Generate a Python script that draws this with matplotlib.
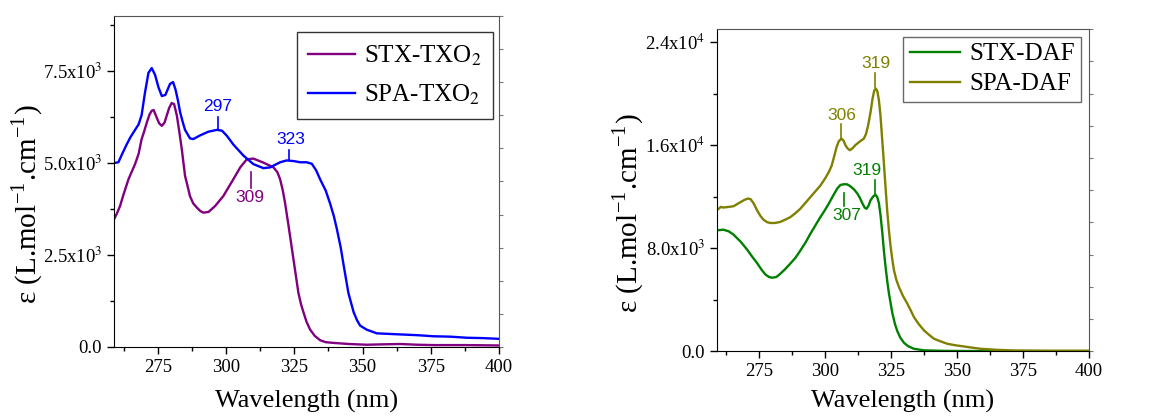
import matplotlib.pyplot as plt
from matplotlib.ticker import MultipleLocator, FixedLocator

plt.rcParams['font.family'] = ['Liberation Serif', 'DejaVu Serif']
plt.rcParams['mathtext.fontset'] = 'stix'

# ---- data: STX-TXO2 / SPA-TXO2 (eps in 1e3 L/mol/cm) ----
wl_stx_txo = [259, 260, 261.2, 262.5, 264.3, 266.7, 268, 269.1, 270, 271, 272, 272.8, 273.5,
              274.6, 275.5, 276.5, 277.5, 278.3, 279.2, 280.1, 281, 282, 282.8, 283.8, 285,
              286, 286.8, 288, 289.3, 290.5, 291.7, 293.6, 296, 299, 302.7, 305.2, 307.6,
              310, 313.7, 316, 317.4, 318.8, 319.8, 320.8, 321.6, 322.9, 324.7, 326.5,
              327.5, 328.4, 329.5, 330.8, 332.5, 334.5, 336.5, 339.3, 345, 351.5, 357,
              363.8, 370, 376, 388, 400]
eps_stx_txo = [3.47, 3.62, 3.83, 4.15, 4.56, 4.97, 5.25, 5.65, 5.85, 6.1, 6.32, 6.42, 6.44,
               6.24, 6.08, 6.01, 6.1, 6.29, 6.5, 6.63, 6.6, 6.29, 5.9, 5.38, 4.65,
               4.35, 4.1, 3.9, 3.79, 3.7, 3.65, 3.67, 3.83, 4.1, 4.56, 4.88, 5.1,
               5.12, 5.01, 4.93, 4.88, 4.75, 4.56, 4.25, 3.92, 3.29, 2.38, 1.47,
               1.15, 0.93, 0.68, 0.47, 0.3, 0.18, 0.13, 0.11, 0.08, 0.06, 0.07,
               0.08, 0.06, 0.05, 0.05, 0.04]

wl_spa_txo = [259, 260.6, 262, 263.6, 265, 266.7, 268, 269.1, 270.3, 271.6, 272.8, 274,
              275.3, 276.5, 277.8, 279.5, 280.6, 281.5, 282.4, 283.2, 284.2, 285, 286.8,
              288, 290.5, 293.5, 296.6, 298.5, 300.3, 302.7, 306.4, 310, 313.7, 316.1,
              319.8, 322.2, 325, 327.1, 329.5, 331.4, 333, 334.5, 336.5, 338.1, 339.5,
              340.6, 342, 343, 344.8, 346.7, 348, 349.1, 351.5, 355.2, 358, 363.8, 370,
              376, 382, 388.2, 394, 400]
eps_spa_txo = [5.0, 5.02, 5.25, 5.5, 5.7, 5.9, 6.05, 6.3, 6.9, 7.45, 7.58, 7.4,
               7.05, 6.82, 6.85, 7.15, 7.2, 7.0, 6.7, 6.38, 6.1, 5.9, 5.67,
               5.65, 5.75, 5.85, 5.9, 5.88, 5.74, 5.5, 5.2, 4.97, 4.86, 4.88,
               5.02, 5.07, 5.05, 5.02, 5.02, 4.98, 4.8, 4.55, 4.25, 3.9, 3.55,
               3.2, 2.7, 2.25, 1.47, 0.95, 0.72, 0.58, 0.47, 0.37, 0.36, 0.34, 0.32,
               0.29, 0.28, 0.25, 0.24, 0.22]

# ---- data: STX-DAF / SPA-DAF (eps in 1e3 L/mol/cm) ----
wl_stx_daf = [259, 261.5, 263.5, 265.3, 268, 270.4, 272.5, 274.2, 276, 277.4, 278.8, 279.9,
              281.5, 283, 284.8, 286.8, 288.8, 290.6, 292.5, 294.4, 296.3, 298.2, 299.8,
              301.4, 303, 304.6, 305.8, 307.1, 308.4, 309.6, 311, 312.2, 313.2, 314.1,
              315, 315.7, 316.5, 317.2, 318.2, 319.1, 319.8, 320.4, 321, 321.7, 322.3,
              322.9, 323.6, 324.2, 325.5, 326.5, 327.4, 328.5, 329.9, 331.5, 333.7,
              337.5, 345, 360, 400]
eps_stx_daf = [9.38, 9.43, 9.3, 9.05, 8.5, 7.9, 7.3, 6.85, 6.3, 5.95, 5.75, 5.70,
               5.75, 6.0, 6.35, 6.79, 7.25, 7.8, 8.4, 9.1, 9.75, 10.4, 10.9,
               11.45, 12.05, 12.62, 12.9, 12.96, 12.95, 12.8, 12.55, 12.25, 11.9, 11.5,
               11.15, 11.05, 11.3, 11.7, 12.0, 12.15, 11.95, 11.5, 10.6, 9.2, 7.8,
               6.6, 5.4, 4.5, 2.95, 2.1, 1.55, 1.05, 0.65, 0.38, 0.18,
               0.06, 0.02, 0.0, 0.0]

wl_spa_daf = [259, 260.5, 261.5, 263.5, 265.3, 267.8, 269.5, 270.8, 271.8, 273, 274.2, 275.5,
              276.7, 278, 279.2, 281, 283, 284.8, 286.8, 288.7, 290.6, 292.5, 294.4, 296.3,
              298.2, 300, 301.4, 302.5, 303.3, 304.3, 305.2, 306.2, 307, 307.7, 308.5,
              309.4, 310.4, 311.5, 313, 314.7, 315.5, 316.3, 317.2, 318, 318.6, 319.2,
              319.8, 320.4, 321, 321.6, 322.3, 323, 323.6, 324.2, 324.8, 325.5, 326.1,
              327, 328, 329.5, 331.2, 332.5, 333.7, 335.5, 337.5, 339.5, 341.3, 343.5,
              346.3, 349.5, 352.7, 356, 359, 365, 371.7, 385, 400]
eps_spa_daf = [10.94, 11.2, 11.15, 11.2, 11.25, 11.55, 11.75, 11.85, 11.8, 11.45, 10.95, 10.5,
               10.2, 10.02, 9.95, 9.95, 10.03, 10.2, 10.4, 10.7, 11.05, 11.5, 11.95, 12.4,
               12.85, 13.4, 13.9, 14.4, 15.0, 15.8, 16.3, 16.5, 16.35, 16.0, 15.75,
               15.6, 15.75, 16.0, 16.25, 16.5, 16.85, 17.5, 18.5, 19.6, 20.2, 20.4,
               20.2, 19.5, 18.3, 16.6, 14.6, 12.5, 10.8, 9.4, 8.2, 7.1, 6.3,
               5.55, 4.98, 4.3, 3.68, 3.15, 2.64, 2.1, 1.61, 1.25, 0.96, 0.78,
               0.57, 0.45, 0.36, 0.26, 0.18, 0.1, 0.05, 0.03, 0.03]

# peak labels: wavelength, line bottom, line top, text y, text x, colour, text above/below line
peaks_txo = [(297, 5.92, 6.25, 6.33, 297, 'blue', 'above'),
             (323, 5.08, 5.35, 5.43, 323.8, 'blue', 'above'),
             (309, 4.33, 4.75, 4.27, 308.8, 'purple', 'below')]
peaks_daf = [(306, 16.5, 17.6, 17.75, 306.4, 'olive', 'above'),
             (319, 20.5, 21.6, 21.75, 319.3, 'olive', 'above'),
             (319, 12.2, 13.3, 13.45, 316.0, 'green', 'above'),
             (307, 11.3, 12.3, 11.15, 308.1, 'green', 'below')]

col = {'purple': '#800080', 'blue': '#0000FF', 'green': '#008000', 'olive': '#808000'}

fig = plt.figure(figsize=(11.6, 4.17), dpi=100)
ax1 = fig.add_axes([0.0983, 0.168, 0.332, 0.794])
ax2 = fig.add_axes([0.618, 0.158, 0.3207, 0.772])


def style(ax, ymax, major, minor, labels, right_step, ylab_x, xpad):
    ax.set_xlim(259, 400)
    ax.set_ylim(0, ymax)
    ax.xaxis.set_major_locator(FixedLocator([275, 300, 325, 350, 375, 400]))
    ax.xaxis.set_minor_locator(MultipleLocator(12.5))
    ax.yaxis.set_minor_locator(MultipleLocator(minor))
    ax.set_yticks([major * i for i in range(len(labels))], labels)
    ax.tick_params(which='both', direction='out', top=False, right=False, labelsize=13.5)
    ax.tick_params(which='major', length=5, width=1)
    ax.tick_params(which='minor', length=3, width=1)
    for s in ['top', 'right']:
        ax.spines[s].set_color('#555555')
    ax.set_xlabel('Wavelength (nm)', fontsize=19, labelpad=xpad)
    ax.set_ylabel(r'$\mathregular{\varepsilon}$ (L.mol$^{\mathregular{-1}}$.cm$^{\mathregular{-1}}$)',
                  fontsize=21)
    ax.yaxis.set_label_coords(ylab_x, 0.43)
    sec = ax.secondary_yaxis('right')
    sec.set_yticks([right_step * i for i in range(11)])
    sec.set_yticklabels([])
    sec.tick_params(direction='out', length=3, color='#777777')
    sec.spines['right'].set_visible(False)


ax1.plot(wl_stx_txo, [v * 1000 for v in eps_stx_txo], color=col['purple'], lw=1.7,
         label='STX-TXO$_2$')
ax1.plot(wl_spa_txo, [v * 1000 for v in eps_spa_txo], color=col['blue'], lw=1.7,
         label='SPA-TXO$_2$')
style(ax1, 9000, 2500, 1250,
      ['0.0', r'2.5x10$^3$', r'5.0x10$^3$', r'7.5x10$^3$'], 900, -0.18, 10)

ax2.plot(wl_stx_daf, [v * 1000 for v in eps_stx_daf], color=col['green'], lw=1.7,
         label='STX-DAF')
ax2.plot(wl_spa_daf, [v * 1000 for v in eps_spa_daf], color=col['olive'], lw=1.7,
         label='SPA-DAF')
style(ax2, 25000, 8000, 4000,
      ['0.0', r'8.0x10$^3$', r'1.6x10$^4$', r'2.4x10$^4$'], 2500, -0.19, 7)

for ax, peaks in [(ax1, peaks_txo), (ax2, peaks_daf)]:
    for wl, y0, y1, ty, tx, c, pos in peaks:
        ax.plot([wl, wl], [y0 * 1000, y1 * 1000], color=col[c], lw=1.2)
        ax.text(tx, ty * 1000, str(wl), color=col[c], ha='center',
                va='bottom' if pos == 'above' else 'top',
                fontsize=12.5, family=['Liberation Sans', 'DejaVu Sans'])

leg1 = ax1.legend(loc='upper right', bbox_to_anchor=(0.984, 0.95), fontsize=18,
                  frameon=True, fancybox=False, edgecolor='black', handlelength=1.9,
                  borderpad=0.45, labelspacing=0.6, handletextpad=0.35, borderaxespad=0)
leg1.get_frame().set_linewidth(1.0)
leg2 = ax2.legend(loc='upper right', fontsize=18, frameon=True, fancybox=False,
                  edgecolor='#444444', handlelength=2.0, borderpad=0.25, labelspacing=0.3,
                  handletextpad=0.4, borderaxespad=0.3)
leg2.get_frame().set_linewidth(1.0)

fig.savefig('out.png', dpi=100)
